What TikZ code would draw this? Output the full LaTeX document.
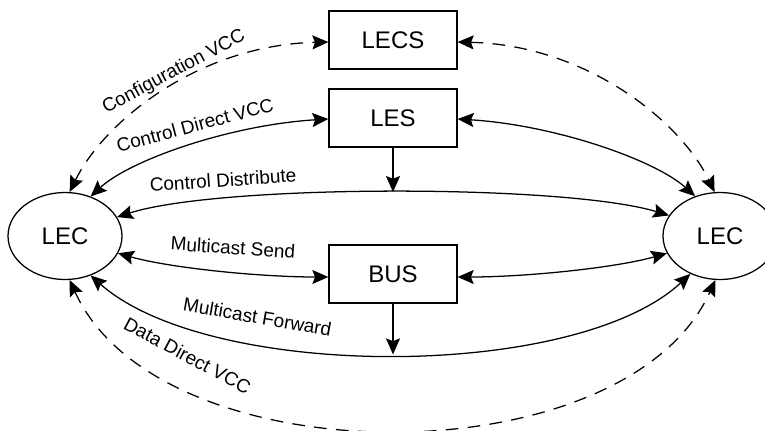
\documentclass[tikz,border=0pt]{standalone}
\usepackage{fontspec}
\setmainfont{Liberation Sans}
\usetikzlibrary{shapes.geometric,arrows.meta}

\begin{document}
\begin{tikzpicture}[
    x=0.75pt, y=-0.75pt,
    line width=0.95pt,
    >={Stealth[length=12pt,width=10.5pt,inset=2pt]},
    server/.style={draw, rectangle, minimum width=96pt, minimum height=43.5pt,
                   inner sep=0pt, font=\fontsize{18pt}{20pt}\selectfont},
    client/.style={draw, ellipse, minimum width=85.5pt, minimum height=65.25pt,
                   inner sep=0pt, font=\fontsize{18pt}{20pt}\selectfont},
    vccdash/.style={dash pattern=on 9.5pt off 7pt},
    lbl/.style={inner sep=0pt, font=\fontsize{14.25pt}{16pt}\selectfont}
  ]
  \useasboundingbox (0,0) rectangle (765,430);

  % servers and clients
  \node[server] (lecs) at (393,40)  {LECS};
  \node[server] (les)  at (393,118) {LES};
  \node[server] (bus)  at (393,274) {BUS};
  \node[client] (lecL) at (65,236)  {LEC};
  \node[client] (lecR) at (720,236) {LEC};

  % configuration VCCs
  \draw[vccdash,<->] (lecL.84) .. controls (105,120) and (200,45) .. ([yshift=-1.5pt]lecs.west);
  \draw[vccdash,<->] ([yshift=-1.5pt]lecs.east) .. controls (585,45) and (680,120) .. (lecR.97);

  % control direct VCCs
  \draw[<->] (lecL.57) .. controls (130,160) and (230,125) .. ([yshift=-0.75pt]les.west);
  \draw[<->] ([yshift=-0.75pt]les.east) .. controls (555,125) and (655,160) .. (lecR.122);

  % control distribute
  \draw[<->] (lecL.20) .. controls (220,184) and (565,184) .. (lecR.158)
    coordinate[pos=0.5] (cdMid);
  \draw[->] (les.south) -- (les.south |- cdMid);

  % multicast send
  \draw[<->] (lecL.-18) .. controls (170,268) and (260,277) .. ([yshift=-2.25pt]bus.west);
  \draw[<->] ([yshift=-2.25pt]bus.east) .. controls (525,277) and (615,268) .. (lecR.-162);

  % multicast forward
  \draw[<->] (lecL.-57) .. controls (210,381) and (575,381) .. (lecR.232)
    coordinate[pos=0.5] (mfMid);
  \draw[->] (bus.south) -- (bus.south |- mfMid);

  % data direct VCC
  \draw[vccdash,<->] (lecL.-84) .. controls (160,479) and (625,479) .. (lecR.264);

  % connection labels
  \node[lbl, rotate=28]  (tConfig)     at (174,72)    {Configuration VCC};
  \node[lbl, rotate=15]  (tCtrlDirect) at (195,125)   {Control Direct VCC};
  \node[lbl, rotate=4]   (tCtrlDist)   at (223,180)   {Control Distribute};
  \node[lbl, rotate=-4]  (tMcSend)     at (233,247.5) {Multicast Send};
  \node[lbl, rotate=-10] (tMcFwd)      at (257.5,317) {Multicast Forward};
  \node[lbl, rotate=-28] (tData)       at (187.5,355.5) {Data Direct VCC};
\end{tikzpicture}
\end{document}
